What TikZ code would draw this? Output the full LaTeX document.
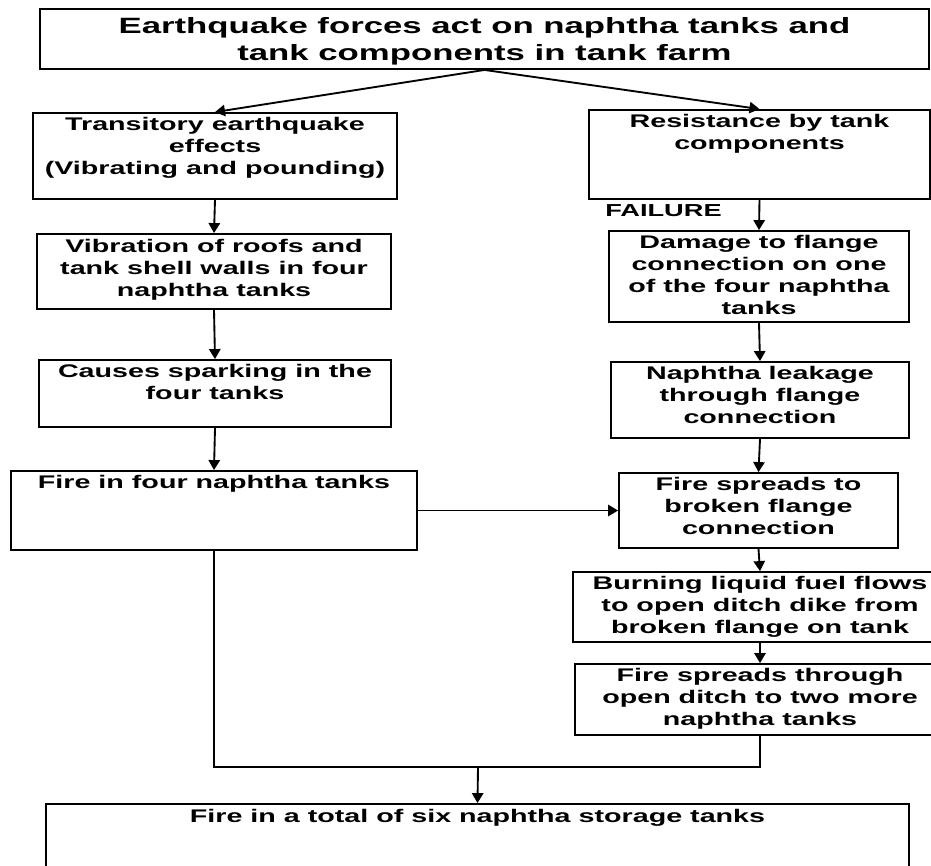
\documentclass[tikz,border=0pt]{standalone}
\usepackage{fontspec}
\setmainfont{Liberation Sans}[FakeStretch=1.57]
\usetikzlibrary{positioning,fit,arrows.meta}

\begin{document}
\begin{tikzpicture}[x=0.75pt,y=-0.75pt,
    box/.style={draw,line width=1.4pt,inner sep=0pt},
    txt/.style={inner sep=0pt,align=center,font=\bfseries\fontsize{13.7pt}{16.5pt}\selectfont},
    head/.style={inner sep=0pt,align=center,font=\bfseries\fontsize{16.6pt}{20pt}\selectfont},
    arr/.style={line width=1.4pt,-{Triangle[length=7.5pt,width=8.5pt]}},
    wire/.style={line width=1.4pt}]
  \useasboundingbox (0,0) rectangle (931,865);
  \clip (0,0) rectangle (931,865);
  % top
  \node[box,fit={(40,9) (929,69)}](quake){};
  \node[head,below=7pt of quake.north](quaketext){Earthquake forces act on naphtha tanks and\\tank components in tank farm};
  % left column
  \node[box,fit={(33,113) (397,199)}](trans){};
  \node[txt,below=4pt of trans.north](transtext){Transitory earthquake\\effects\\(Vibrating and pounding)};
  \node[box,fit={(37,234) (391,309)}](vibr){};
  \node[txt,below=4.5pt of vibr.north](vibrtext){Vibration of roofs and\\tank shell walls in four\\naphtha tanks};
  \node[box,fit={(39,360) (391,427)}](spark){};
  \node[txt,below=4pt of spark.north](sparktext){Causes sparking in the\\four tanks};
  \node[box,fit={(11,471) (417,550)}](firefour){};
  \node[txt,below=3.5pt of firefour.north](firefourtext){Fire in four naphtha tanks};
  % right column
  \node[box,fit={(589,110) (930,199)}](resist){};
  \node[txt,below=4pt of resist.north](resisttext){Resistance by tank\\components};
  \node[txt,font=\bfseries\fontsize{13pt}{15pt}\selectfont,anchor=west](failure) at (605,211){FAILURE};
  \node[box,fit={(609,231) (909,322)}](damage){};
  \node[txt,below=4pt of damage.north](damagetext){Damage to flange\\connection on one\\of the four naphtha\\tanks};
  \node[box,fit={(611,362) (909,438)}](leak){};
  \node[txt,below=3.5pt of leak.north](leaktext){Naphtha leakage\\through flange\\connection};
  \node[box,fit={(619,473) (898,548)}](spreadto){};
  \node[txt,below=3.5pt of spreadto.north](spreadtotext){Fire spreads to\\broken flange\\connection};
  \node[box,fit={(573,572) (947,642)}](burning){};
  \node[txt,below=4pt of burning.north](burningtext){Burning liquid fuel flows\\to open ditch dike from\\broken flange on tank};
  \node[box,fit={(575,664) (945,735)}](spreadthru){};
  \node[txt,below=3.5pt of spreadthru.north](spreadthrutext){Fire spreads through\\open ditch to two more\\naphtha tanks};
  % bottom
  \node[box,fit={(46,804) (909,880)}](total){};
  \node[txt,below=4.5pt of total.north](totaltext){Fire in a total of six naphtha storage tanks};
  \coordinate (merge) at (478,767);

  \draw[arr] (quake.south) -- (trans.north);
  \draw[arr] (quake.south) -- (resist.north);
  \draw[arr] (trans.south) -- (vibr.north);
  \draw[arr] (vibr.south) -- (spark.north);
  \draw[arr] (spark.south) -- (firefour.north);
  \draw[arr] (resist.south) -- (damage.north);
  \draw[arr] (damage.south) -- (leak.north);
  \draw[arr] (leak.south) -- (spreadto.north);
  \draw[arr] (spreadto.south) -- (burning.north);
  \draw[arr] (burning.south) -- (spreadthru.north);
  \draw[arr] (firefour.east) -- (spreadto.west);
  \draw[wire] (firefour.south) |- (merge);
  \draw[wire] (spreadthru.south) |- (merge);
  \draw[arr] (merge) -- (total.north);
\end{tikzpicture}
\end{document}
